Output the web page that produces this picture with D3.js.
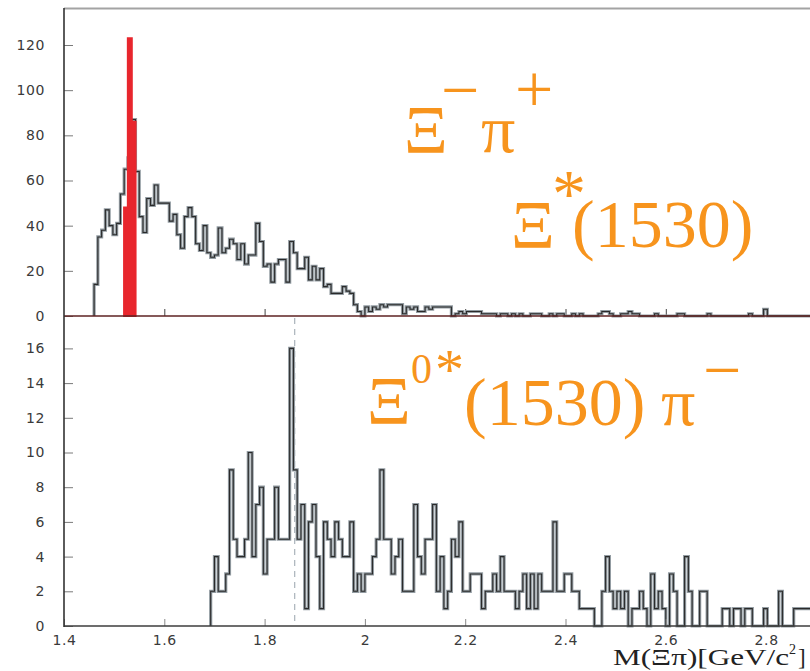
<!DOCTYPE html>
<html>
<head>
<meta charset="utf-8">
<script src="https://cdn.jsdelivr.net/npm/d3@7/dist/d3.min.js"></script>
<style>
  html, body { margin: 0; padding: 0; background: #fff; }
  svg { display: block; }
  .tick text { font-family: "DejaVu Sans", sans-serif; fill: #3a3a3a; }
</style>
</head>
<body>
<svg id="chart" width="810" height="671"></svg>
<script>
// Histogram binning (GeV/c^2)
const binWidth = 0.0075;

// Xi- pi+ spectrum, counts per bin starting at topStart
const topStart = 1.46;
const topCounts = [
  14, 35, 38, 47, 40, 36, 41, 54, 65, 70, 87, 64, 44, 37, 52, 49, 58, 50, 50, 50,
  42, 45, 36, 30, 44, 48, 44, 32, 29, 40, 28, 26, 27, 39, 28, 30, 34, 32, 25, 32,
  23, 27, 27, 41, 33, 22, 23, 15, 23, 25, 25, 15, 33, 28, 21, 21, 26, 16, 22, 16,
  21, 13, 14, 10, 10, 10, 13, 11, 10, 5, 2, 0, 4, 2, 4, 3, 5, 4, 5, 5,
  5, 5, 1, 4, 3, 4, 2, 2, 4, 3, 4, 4, 4, 4, 4, 0, 1, 2, 1, 2,
  2, 2, 2, 1, 1, 1, 1, 0, 1, 1, 0, 1, 0, 1, 0, 0, 1, 1, 1, 0,
  0, 1, 0, 1, 1, 0, 0, 1, 0, 1, 0, 0, 0, 0, 1, 2, 2, 1, 0, 0,
  1, 1, 2, 1, 1, 0, 0, 0, 0, 1, 0, 0, 0, 0, 0, 1, 1, 0, 0, 0,
  0, 0, 0, 1, 0, 0, 0, 0, 0, 0, 0, 0, 0, 0, 1, 0, 0, 0, 3, 0,
  0, 0, 0, 0, 0, 0, 0, 0, 0, 0, 0, 0
];

// Xi*(1530) signal region
const signalStart = 1.52;
const signalCounts = [48, 123, 86];

// Xi0*(1530) pi- spectrum, counts per bin starting at bottomStart
const bottomStart = 1.6925;
const bottomCounts = [
  2, 4, 2, 2, 3, 9, 5, 4, 4, 5, 10, 4, 7, 8, 3, 5, 5, 8, 5, 5,
  5, 16, 9, 5, 7, 1, 6, 7, 4, 1, 6, 5, 4, 6, 5, 4, 4, 6, 2, 3,
  2, 3, 3, 4, 5, 9, 5, 5, 3, 4, 5, 2, 2, 2, 7, 4, 3, 5, 5, 7,
  2, 4, 1, 2, 5, 4, 6, 2, 2, 3, 3, 3, 1, 2, 2, 3, 2, 4, 2, 2,
  2, 1, 2, 3, 1, 3, 1, 3, 2, 2, 2, 6, 2, 2, 3, 3, 2, 2, 1, 1,
  1, 1, 0, 0, 2, 4, 2, 1, 2, 1, 2, 0, 1, 1, 2, 1, 0, 3, 1, 2,
  1, 0, 3, 2, 0, 0, 4, 2, 0, 0, 2, 2, 0, 0, 0, 0, 1, 1, 0, 1,
  1, 0, 1, 1, 0, 0, 0, 1, 0, 0, 0, 2, 0, 0, 0, 1, 1, 1, 1, 1
];

// Candidate mass marker
const markerMass = 1.86;

// Axis ticks
const xTicks = [1.4, 1.6, 1.8, 2.0, 2.2, 2.4, 2.6, 2.8];
const topYTicks = [0, 20, 40, 60, 80, 100, 120];
const bottomYTicks = [0, 2, 4, 6, 8, 10, 12, 14, 16];

const SERIF = "'Liberation Serif', 'Times New Roman', serif";
const ORANGE = "#F7941D";

const svg = d3.select("#chart");

const x = d3.scaleLinear().domain([1.4, 3.0]).range([64, 866.4]);
const yTop = d3.scaleLinear().domain([0, 120]).range([316, 45]);
const yBot = d3.scaleLinear().domain([0, 16]).range([626, 348.4]);

function stepPoints(start, counts) {
  const pts = [[start, 0]];
  counts.forEach((c, i) => pts.push([start + i * binWidth, c]));
  pts.push([start + counts.length * binWidth, 0]);
  return pts;
}

function drawHist(start, counts, y) {
  const line = d3.line()
    .x(d => x(d[0]))
    .y(d => y(d[1]))
    .curve(d3.curveStepAfter);
  const pts = stepPoints(start, counts);
  svg.append("path").attr("d", line(pts))
    .attr("fill", "none").attr("stroke", "#939ca2").attr("stroke-width", 3.2)
    .attr("stroke-linejoin", "miter");
  svg.append("path").attr("d", line(pts))
    .attr("fill", "none").attr("stroke", "#2a2a2a").attr("stroke-width", 1.1);
}

// Frame
svg.append("line").attr("x1", 64).attr("x2", 810).attr("y1", 8.5).attr("y2", 8.5)
  .attr("stroke", "#a3a3a3").attr("stroke-width", 2);

// Y axes (ticks point inward)
function yAxis(scale, ticks) {
  const g = svg.append("g").attr("transform", "translate(64,0)")
    .call(d3.axisLeft(scale).tickValues(ticks).tickSizeInner(-9).tickSizeOuter(0).tickPadding(19));
  g.select(".domain").remove();
  g.selectAll(".tick line").attr("stroke", "#7a7a7a");
  g.selectAll(".tick text").attr("font-size", 14).attr("letter-spacing", "0.6px");
  return g;
}
yAxis(yTop, topYTicks);
yAxis(yBot, bottomYTicks);

// Top panel x ticks (upward)
const gxTop = svg.append("g").attr("transform", "translate(0,316)")
  .call(d3.axisBottom(x).tickValues(xTicks.slice(1)).tickSizeInner(-7).tickSizeOuter(0).tickFormat(""));
gxTop.select(".domain").remove();
gxTop.selectAll(".tick line").attr("stroke", "#444");

// Marker line across the lower panel
svg.append("line")
  .attr("x1", x(markerMass)).attr("x2", x(markerMass))
  .attr("y1", 318).attr("y2", 626)
  .attr("stroke", "#aab3ba").attr("stroke-width", 1.2).attr("stroke-dasharray", "6,5");

// Histograms
drawHist(topStart, topCounts, yTop);

const signalPts = signalCounts.map((c, i) => [signalStart + i * binWidth, c]);
signalPts.push([signalStart + signalCounts.length * binWidth, signalCounts[signalCounts.length - 1]]);
svg.append("path")
  .attr("d", d3.area().x(d => x(d[0])).y0(yTop(0)).y1(d => yTop(d[1])).curve(d3.curveStepAfter)(signalPts))
  .attr("fill", "#e8262d").attr("stroke", "#e8262d").attr("stroke-width", 2.2);

drawHist(bottomStart, bottomCounts, yBot);

// Panel separator / top panel baseline
svg.append("line").attr("x1", 64).attr("x2", 810).attr("y1", 316).attr("y2", 316)
  .attr("stroke", "#5e2222").attr("stroke-width", 1.6);

// Bottom x axis
const gxBot = svg.append("g").attr("transform", "translate(0,626)")
  .call(d3.axisBottom(x).tickValues(xTicks).tickSizeInner(-7).tickSizeOuter(0).tickPadding(9)
    .tickFormat(d => String(+d.toFixed(1))));
gxBot.select(".domain").remove();
gxBot.selectAll(".tick line").attr("stroke", "#8a8a8a");
gxBot.selectAll(".tick text").attr("font-size", 14).attr("letter-spacing", "0.6px");
svg.append("line").attr("x1", 64).attr("x2", 810).attr("y1", 626).attr("y2", 626)
  .attr("stroke", "#3c3c3c").attr("stroke-width", 1.6);

// Left axis line
svg.append("line").attr("x1", 64).attr("x2", 64).attr("y1", 8).attr("y2", 627)
  .attr("stroke", "#333").attr("stroke-width", 1.6);

// Axis title
const title = svg.append("text")
  .attr("x", 613).attr("y", 665)
  .attr("font-family", SERIF)
  .attr("font-size", 23).attr("fill", "#222");
title.append("tspan").text("M(Ξπ)[GeV/c").attr("textLength", 176).attr("lengthAdjust", "spacingAndGlyphs");
title.append("tspan").text("2").attr("font-size", 14).attr("dy", -11);
title.append("tspan").text("]").attr("dy", 11).attr("dx", 2);

// Channel labels: each label is one text element built from positioned pieces
function label(pieces) {
  const t = svg.append("text")
    .attr("font-family", SERIF)
    .attr("fill", ORANGE);
  pieces.forEach(p => {
    t.append("tspan")
      .attr("x", p.x).attr("y", p.y)
      .attr("font-size", p.size)
      .text(p.t);
  });
}
label([
  { t: "Ξ", x: 404, y: 152, size: 68 },
  { t: "−", x: 441, y: 113, size: 68 },
  { t: "π", x: 481, y: 152, size: 68 },
  { t: "+", x: 515, y: 112, size: 68 }
]);
label([
  { t: "Ξ", x: 511, y: 247, size: 68 },
  { t: "*", x: 552, y: 216, size: 68 },
  { t: "(1530)", x: 572, y: 247, size: 68 }
]);
label([
  { t: "Ξ", x: 367, y: 423, size: 68 },
  { t: "0", x: 411, y: 383, size: 42 },
  { t: "*", x: 435, y: 389, size: 58 },
  { t: "(1530)", x: 464, y: 425, size: 68 },
  { t: "π", x: 661, y: 425, size: 68 },
  { t: "−", x: 703, y: 393, size: 68 }
]);
</script>
</body>
</html>
